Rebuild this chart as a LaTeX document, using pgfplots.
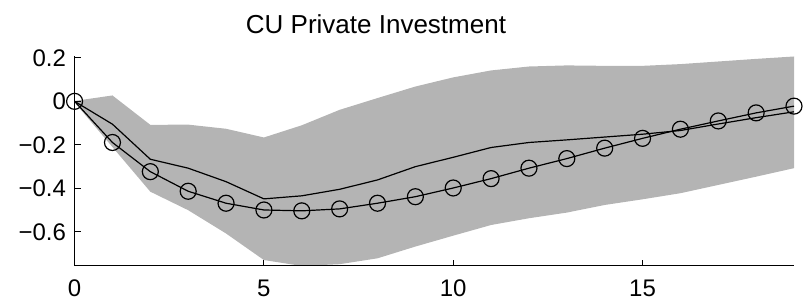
\documentclass[border=0pt]{standalone}
\usepackage{pgfplots}
\pgfplotsset{compat=1.18}
\usepackage{fontspec}
\setmainfont{Liberation Sans}
\definecolor{band}{RGB}{180,180,180}
\begin{document}
\begin{tikzpicture}
\useasboundingbox (-37.3pt,-19pt) rectangle (364.2pt,133pt);
\begin{axis}[
  at={(0,0)}, anchor=south west, scale only axis,
  width=359.7pt, height=104.75pt,
  xmin=0, xmax=19, ymin=-0.7563, ymax=0.206,
  axis x line*=bottom, axis y line*=left,
  axis line style={line width=0.5pt, -},
  tick align=inside, major tick length=3.2pt,
  tick style={black, line width=0.5pt},
  xtick={0,5,10,15},
  ytick={-0.6,-0.4,-0.2,0,0.2},
  yticklabels={−0.6,−0.4,−0.2,0,0.2},
  /pgf/number format/assume math mode=true,
  x tick label style={font=\fontsize{12}{14}\selectfont, yshift=-3.35pt},
  y tick label style={font=\fontsize{12}{14}\selectfont, xshift=-0.8pt},
  clip=false, axis on top,
]
\addplot[fill=band, draw=none] coordinates {
(0,0.002) (1,0.027) (2,-0.108) (3,-0.107) (4,-0.126) (5,-0.166) (6,-0.110) (7,-0.039) (8,0.015) (9,0.068)
(10,0.110) (11,0.142) (12,0.160) (13,0.165) (14,0.163) (15,0.163) (16,0.171) (17,0.183) (18,0.195) (19,0.206)
(19,-0.307) (18,-0.346) (17,-0.384) (16,-0.422) (15,-0.450) (14,-0.476) (13,-0.511) (12,-0.537) (11,-0.568) (10,-0.617)
(9,-0.667) (8,-0.721) (7,-0.748) (6,-0.756) (5,-0.729) (4,-0.607) (3,-0.500) (2,-0.415) (1,-0.210) (0,-0.005)
} -- cycle;
\addplot[black, line width=0.6pt, mark=none] coordinates {
(0,0) (1,-0.105) (2,-0.266) (3,-0.307) (4,-0.369) (5,-0.448) (6,-0.434) (7,-0.404) (8,-0.361) (9,-0.300)
(10,-0.257) (11,-0.212) (12,-0.189) (13,-0.177) (14,-0.164) (15,-0.151) (16,-0.134) (17,-0.104) (18,-0.075) (19,-0.048)
};
\addplot[black, line width=0.6pt, mark=o, mark size=4pt, mark options={line width=0.6pt}] coordinates {
(0,0) (1,-0.189) (2,-0.323) (3,-0.413) (4,-0.468) (5,-0.499) (6,-0.503) (7,-0.494) (8,-0.468) (9,-0.438)
(10,-0.398) (11,-0.355) (12,-0.307) (13,-0.263) (14,-0.215) (15,-0.170) (16,-0.128) (17,-0.090) (18,-0.053) (19,-0.022)
};
\end{axis}
\node[anchor=base, font=\fontsize{13}{15}\selectfont] at (150.7pt,116.4pt) {CU Private Investment};
\end{tikzpicture}
\end{document}
